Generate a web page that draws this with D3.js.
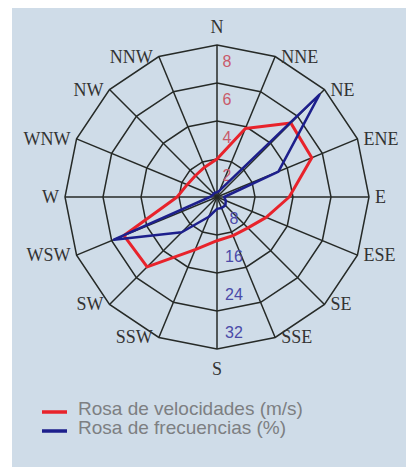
<!DOCTYPE html>
<html><head><meta charset="utf-8">
<script src="https://cdn.jsdelivr.net/npm/d3@7"></script>
<style>html,body{margin:0;padding:0;background:#fff;}svg{display:block;}</style>
</head><body>
<script>
const directions = ["N","NNE","NE","ENE","E","ESE","SE","SSE","S","SSW","SW","WSW","W","WNW","NW","NNW"];
const velocities = [2.0,3.9,5.5,5.4,3.8,2.8,2.3,2.2,2.3,3.0,5.2,5.3,2.1,1.7,1.6,1.7];
const frequencies = [1,1.5,30.5,14,1.5,2,2.5,2.5,2.5,4.5,10.5,23.5,1.5,1,1,1];
const velTicks = [2,4,6,8];
const freqTicks = [8,16,24,32];
const legendLabels = ["Rosa de velocidades (m/s)","Rosa de frecuencias (%)"];

const W = 406, H = 467, cx = 217, cy = 197, R = 152;
const svg = d3.select("body").append("svg").attr("width", W).attr("height", H);
svg.append("rect").attr("x",12).attr("y",8).attr("width",W-12).attr("height",H-8).attr("fill","#cfdce8");

const g = svg.append("g").attr("transform",`translate(${cx},${cy})`);
const rVel = d3.scaleLinear().domain([0,8]).range([0,R]);
const rFreq = d3.scaleLinear().domain([0,32]).range([0,R]);
const step = 2*Math.PI/directions.length;
const angle = (i) => i*step;

// grid rings (polygons)
const ringLine = d3.lineRadial().angle((d,i)=>angle(i)).radius(d=>d).curve(d3.curveLinearClosed);
freqTicks.forEach(t=>{
  g.append("path").attr("d", ringLine(directions.map(()=>rFreq(t))))
   .attr("fill","none").attr("stroke","#262a27").attr("stroke-width",1.5);
});
// spokes
directions.forEach((d,i)=>{
  const a = angle(i);
  g.append("line").attr("x1",0).attr("y1",0)
   .attr("x2",R*Math.sin(a)).attr("y2",-R*Math.cos(a))
   .attr("stroke","#262a27").attr("stroke-width",1.5);
});

// direction labels
directions.forEach((d,i)=>{
  const a = angle(i), s = Math.sin(a), c = Math.cos(a);
  const ex = R*s, ey = -R*c;
  let x = ex, y = ey, anchor = "middle";
  if (Math.abs(s) < 0.01) { y = ey + (c>0 ? -18 : 20); }
  else { x = ex + (s>0 ? 6 : -6); anchor = s>0 ? "start" : "end"; }
  g.append("text").attr("x",x).attr("y",y).attr("text-anchor",anchor)
   .attr("dominant-baseline","central")
   .attr("font-family","'Liberation Serif', serif").attr("font-size",18)
   .attr("fill","#333").text(d);
});

// radial tick labels
velTicks.forEach(t=>{
  g.append("text").attr("x",10).attr("y",-rVel(t)+16).attr("text-anchor","middle")
   .attr("dominant-baseline","central").attr("font-family","'Liberation Sans', Arial, sans-serif")
   .attr("font-size",16).attr("fill","#c95a6a").text(t);
});
freqTicks.forEach(t=>{
  g.append("text").attr("x",17).attr("y",rFreq(t)-17).attr("text-anchor","middle")
   .attr("dominant-baseline","central").attr("font-family","'Liberation Sans', Arial, sans-serif")
   .attr("font-size",16).attr("fill","#4a4aa8").text(t);
});

// series
const velLine = d3.lineRadial().angle((d,i)=>angle(i)).radius(d=>rVel(d)).curve(d3.curveLinearClosed);
const freqLine = d3.lineRadial().angle((d,i)=>angle(i)).radius(d=>rFreq(d)).curve(d3.curveLinearClosed);
g.append("path").attr("d",velLine(velocities)).attr("fill","none")
 .attr("stroke","#e8232b").attr("stroke-width",3).attr("stroke-linejoin","round");
g.append("path").attr("d",freqLine(frequencies)).attr("fill","none")
 .attr("stroke","#1d1f8c").attr("stroke-width",2.5).attr("stroke-linejoin","round");

// legend
const legColors = ["#e8232b","#1d1f8c"];
legendLabels.forEach((l,i)=>{
  const y = 412 + i*19;
  svg.append("line").attr("x1",42).attr("x2",67).attr("y1",y).attr("y2",y)
   .attr("stroke",legColors[i]).attr("stroke-width",3.5);
  svg.append("text").attr("x",78).attr("y",y+3).attr("font-family","'Liberation Sans', Arial, sans-serif")
   .attr("font-size",19).attr("fill","#7d7f82").text(l);
});
</script>
</body></html>
